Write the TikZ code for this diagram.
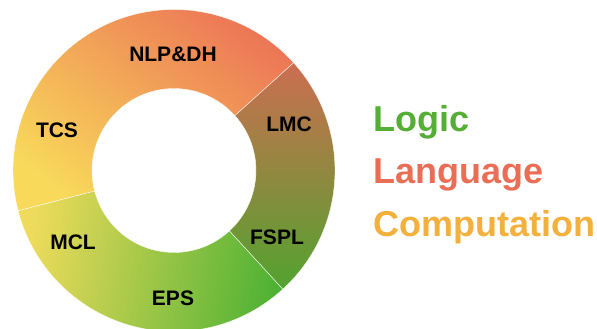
\documentclass[tikz,border=0pt]{standalone}
\usepackage{fontspec}
\setmainfont{Liberation Sans}
\definecolor{lyellow}{HTML}{F8D95A}
\definecolor{lmid}{HTML}{F1A655}
\definecolor{lred}{HTML}{EC7456}
\definecolor{rtop}{HTML}{CC6E50}
\definecolor{rbot}{HTML}{52A32F}
\definecolor{byellow}{HTML}{EEDB5B}
\definecolor{bgreen}{HTML}{50B234}
\definecolor{leggreen}{HTML}{55AE36}
\definecolor{legred}{HTML}{EA6E55}
\definecolor{legorange}{HTML}{F3B03C}
\begin{document}
\begin{tikzpicture}[x=1pt,y=1pt,
  seglabel/.style={font=\fontsize{21}{24}\selectfont\bfseries, text=black, inner sep=0pt},
  legend/.style={font=\fontsize{36}{40}\selectfont\bfseries, anchor=base west, inner sep=0pt},
  segedge/.style={draw=white, line width=0.35pt}]
\useasboundingbox (0,0) rectangle (597,329);
\coordinate (c) at (174,158.5);
\begin{scope}[shift={(174,158.5)}]
  \shadedraw[segedge, bottom color=lyellow, middle color=lmid, top color=lred, shading angle=-38]
    (42:161) arc[start angle=42, end angle=194.5, radius=161]
    -- (194.5:82) arc[start angle=194.5, end angle=42, radius=82] -- cycle;
  \shadedraw[segedge, bottom color=rbot, top color=rtop, shading angle=0]
    (-47.5:161) arc[start angle=-47.5, end angle=42, radius=161]
    -- (42:82) arc[start angle=42, end angle=-47.5, radius=82] -- cycle;
  \shadedraw[segedge, left color=byellow, right color=bgreen, shading angle=80]
    (194.5:161) arc[start angle=194.5, end angle=312.5, radius=161]
    -- (312.5:82) arc[start angle=312.5, end angle=194.5, radius=82] -- cycle;
\end{scope}
\node[seglabel] (nlp) at (173,275) {NLP\&DH};
\node[seglabel] (tcs) at (57,199) {TCS};
\node[seglabel] (lmc) at (289,205) {LMC};
\node[seglabel] (fspl) at (277,92) {FSPL};
\node[seglabel] (mcl) at (73,87) {MCL};
\node[seglabel] (eps) at (173,31) {EPS};
\node[legend, text=leggreen] (logic) at (373,197.3) {Logic};
\node[legend, text=legred] (lang) at (373,145.7) {Language};
\node[legend, text=legorange] (comp) at (373,92.3) {Computation};
\end{tikzpicture}
\end{document}
